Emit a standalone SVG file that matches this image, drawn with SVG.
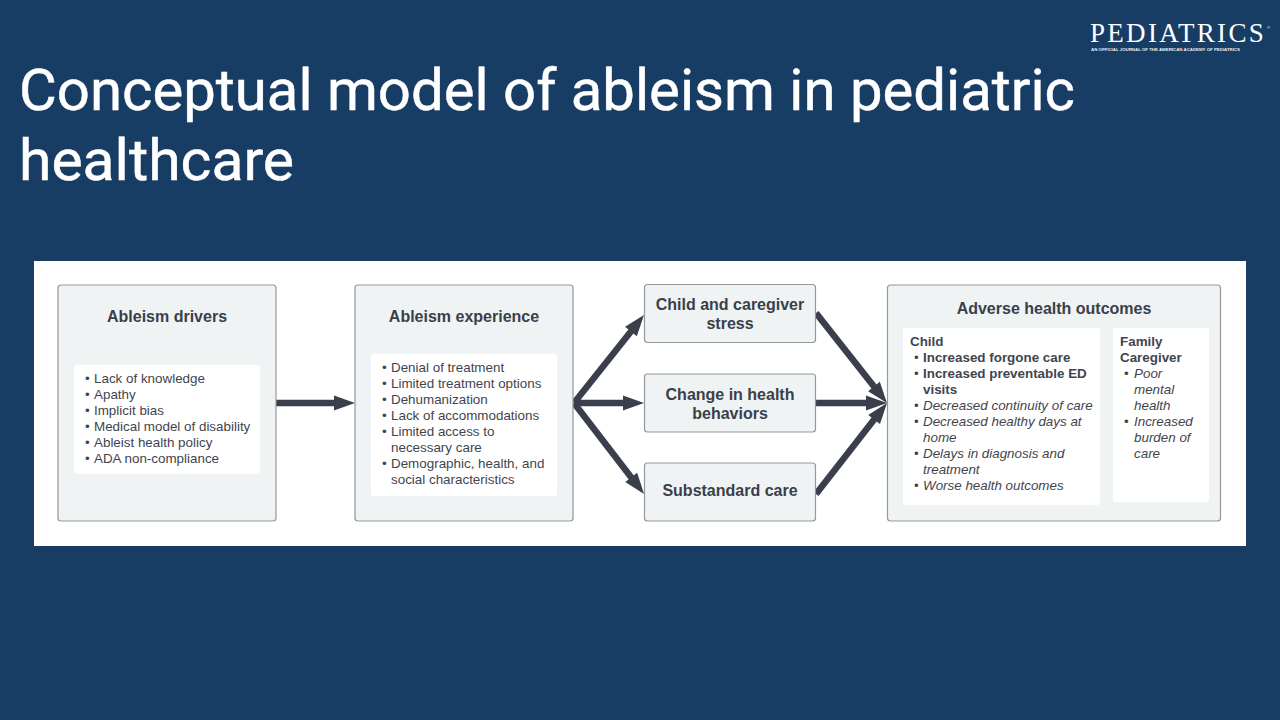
<svg xmlns="http://www.w3.org/2000/svg" width="1280" height="720" viewBox="0 0 1280 720">
<style>
text{font-family:"Liberation Sans",Arial,sans-serif;fill:#3f454e}
.title{font-family:Roboto,"Open Sans",sans-serif;font-size:58px;fill:#fff;stroke:#fff;stroke-width:.5px}
.box{fill:#f0f3f4;stroke:#94989c;stroke-width:1.2}
.inner{fill:#fff}
.h{font-size:16px;font-weight:700;text-anchor:middle;fill:#3a3f49}
.l{font-size:13.4px}
.b{font-weight:700}
.sub{font-weight:700}
.i{font-style:italic}
.conn{stroke:#3a3f4b;stroke-width:6.500;fill:none;marker-end:url(#arr)}
</style>
<defs>
<marker id="arr" markerUnits="userSpaceOnUse" markerWidth="22" markerHeight="16" refX="8" refY="7.500" orient="auto" overflow="visible">
<path d="M0 0L21 7.500L0 15Z" fill="#3a3f4b"/>
</marker>
</defs>
<rect width="1280" height="720" fill="#183d65"/>
<g id="title">
<text class="title" x="19" y="110" textLength="1056" lengthAdjust="spacingAndGlyphs">Conceptual model of ableism in pediatric</text>
<text class="title" x="19" y="180" textLength="275" lengthAdjust="spacingAndGlyphs">healthcare</text>
</g>
<g id="logo">
<text x="1090" y="41.500" style="font-family:'Liberation Serif',serif;font-size:27px;fill:#fff;letter-spacing:2.300px">PEDIATRICS</text>
<text x="1267" y="29" style="font-family:'Liberation Sans',sans-serif;font-size:4px;fill:#fff">®</text>
<text x="1091" y="51" style="font-family:'Liberation Sans',sans-serif;font-size:4.200px;font-weight:700;fill:#e8edf2" textLength="149" lengthAdjust="spacingAndGlyphs">AN OFFICIAL JOURNAL OF THE AMERICAN ACADEMY OF PEDIATRICS</text>
</g>
<rect id="panel" x="34" y="261" width="1212" height="285" fill="#fff"/>
<g id="connectors">
<path class="conn" d="M276 403H342"/>
<path class="conn" d="M574 403L635.900 325.200"/>
<path class="conn" d="M574 403H631"/>
<path class="conn" d="M574 403L636.100 483.700"/>
<path class="conn" d="M816 313L878.900 392.800"/>
<path class="conn" d="M816 403H874"/>
<path class="conn" d="M816 494L879 413.200"/>
</g>
<g id="drivers">
<rect class="box" x="58" y="285" width="218" height="236" rx="3"/>
<text class="h" x="167" y="322">Ableism drivers</text>
<rect class="inner" x="74" y="365" width="186" height="109" rx="3"/>
<text class="l" x="85" y="382.500">•</text><text class="l" x="94" y="382.500">Lack of knowledge</text>
<text class="l" x="85" y="398.500">•</text><text class="l" x="94" y="398.500">Apathy</text>
<text class="l" x="85" y="414.500">•</text><text class="l" x="94" y="414.500">Implicit bias</text>
<text class="l" x="85" y="430.500">•</text><text class="l" x="94" y="430.500">Medical model of disability</text>
<text class="l" x="85" y="446.500">•</text><text class="l" x="94" y="446.500">Ableist health policy</text>
<text class="l" x="85" y="462.500">•</text><text class="l" x="94" y="462.500">ADA non-compliance</text>
</g>
<g id="experience">
<rect class="box" x="355" y="285" width="218" height="236" rx="3"/>
<text class="h" x="464" y="322">Ableism experience</text>
<rect class="inner" x="371" y="354" width="186" height="142" rx="3"/>
<text class="l" x="382" y="372">•</text><text class="l" x="391" y="372">Denial of treatment</text>
<text class="l" x="382" y="388">•</text><text class="l" x="391" y="388">Limited treatment options</text>
<text class="l" x="382" y="404">•</text><text class="l" x="391" y="404">Dehumanization</text>
<text class="l" x="382" y="420">•</text><text class="l" x="391" y="420">Lack of accommodations</text>
<text class="l" x="382" y="436">•</text><text class="l" x="391" y="436">Limited access to</text>
<text class="l" x="391" y="452">necessary care</text>
<text class="l" x="382" y="468">•</text><text class="l" x="391" y="468">Demographic, health, and</text>
<text class="l" x="391" y="484">social characteristics</text>
</g>
<g id="stress">
<rect class="box" x="644.500" y="284.500" width="171" height="58" rx="3"/>
<text class="h" x="730" y="310">Child and caregiver</text>
<text class="h" x="730" y="329">stress</text>
</g>
<g id="behaviors">
<rect class="box" x="644.500" y="374" width="171" height="58" rx="3"/>
<text class="h" x="730" y="399.500">Change in health</text>
<text class="h" x="730" y="418.500">behaviors</text>
</g>
<g id="care">
<rect class="box" x="644.500" y="463" width="171" height="58" rx="3"/>
<text class="h" x="730" y="495.500">Substandard care</text>
</g>
<g id="outcomes">
<rect class="box" x="887.500" y="285" width="333" height="236" rx="3"/>
<text class="h" x="1054" y="314">Adverse health outcomes</text>
<rect class="inner" x="903" y="328" width="197" height="177" rx="3"/>
<rect class="inner" x="1113" y="328" width="96" height="174" rx="3"/>
<text class="l sub" x="910" y="345.500">Child</text>
<text class="l" x="914" y="361.500">•</text><text class="l b" x="923" y="361.500">Increased forgone care</text>
<text class="l" x="914" y="377.500">•</text><text class="l b" x="923" y="377.500">Increased preventable ED</text>
<text class="l b" x="923" y="393.500">visits</text>
<text class="l" x="914" y="409.500">•</text><text class="l i" x="923" y="409.500">Decreased continuity of care</text>
<text class="l" x="914" y="425.500">•</text><text class="l i" x="923" y="425.500">Decreased healthy days at</text>
<text class="l i" x="923" y="441.500">home</text>
<text class="l" x="914" y="457.500">•</text><text class="l i" x="923" y="457.500">Delays in diagnosis and</text>
<text class="l i" x="923" y="473.500">treatment</text>
<text class="l" x="914" y="489.500">•</text><text class="l i" x="923" y="489.500">Worse health outcomes</text>
<text class="l sub" x="1120" y="345.500">Family</text>
<text class="l sub" x="1120" y="361.500">Caregiver</text>
<text class="l" x="1124" y="377.500">•</text><text class="l i" x="1134" y="377.500">Poor</text>
<text class="l i" x="1134" y="393.500">mental</text>
<text class="l i" x="1134" y="409.500">health</text>
<text class="l" x="1124" y="425.500">•</text><text class="l i" x="1134" y="425.500">Increased</text>
<text class="l i" x="1134" y="441.500">burden of</text>
<text class="l i" x="1134" y="457.500">care</text>
</g>
</svg>
